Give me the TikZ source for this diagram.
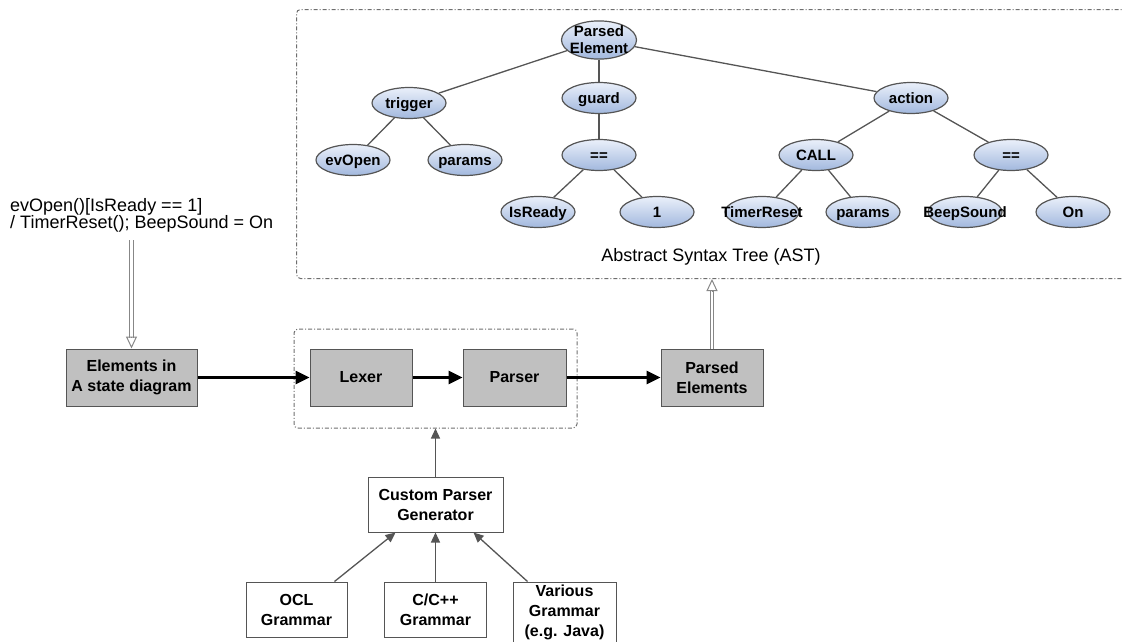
\documentclass[tikz,border=0pt]{standalone}
\usepackage{fontspec}
\setmainfont{Liberation Sans}
\usetikzlibrary{positioning,arrows.meta,shapes.geometric}
\definecolor{edgegray}{RGB}{85,85,85}
\definecolor{boxgray}{RGB}{192,192,192}
\definecolor{framegray}{RGB}{110,110,110}
\definecolor{shaftgray}{RGB}{135,135,135}
\definecolor{asttop}{RGB}{234,240,250}
\definecolor{astbottom}{RGB}{162,184,222}
\newcommand{\boxfont}{\fontsize{16}{20}\selectfont\bfseries}
\newcommand{\astfont}{\fontsize{15}{17}\selectfont\bfseries}
\newcommand{\notefont}{\fontsize{18}{17}\selectfont}
\tikzset{
	procbox/.style={
		rectangle,
		draw=edgegray, line width=1pt,
		fill=boxgray,
		font=\boxfont,
		align=center,
		minimum height=57pt,
		inner sep=0pt},
	grambox/.style={
		rectangle,
		draw=edgegray, line width=1pt,
		fill=white,
		font=\boxfont,
		align=center,
		inner sep=0pt},
	astnode/.style={
		ellipse,
		draw=edgegray, line width=1.2pt,
		top color=asttop, bottom color=astbottom,
		minimum width=74pt,
		minimum height=31pt,
		inner sep=0pt,
		font=\astfont,
		text height=10.5pt, text depth=0pt,
		execute at begin node={\hbox to 0pt\bgroup\hss},
		execute at end node={\hss\egroup}},
	groupframe/.style={
		rectangle,
		draw=framegray, line width=1pt,
		dash pattern=on 4pt off 2pt on 1pt off 2pt,
		rounded corners=4pt,
		inner sep=0pt},
	treeline/.style={draw=edgegray, line width=1.3pt},
	flow/.style={draw=black, line width=2.6pt, -{Triangle[length=14pt,width=13pt]}},
	feed/.style={draw=edgegray, line width=1.3pt, -{Triangle[length=10pt,width=9pt]}},
	dblshaft/.style={draw=shaftgray, double=white, double distance=2.5pt, line width=1pt},
	hollowtip/.style={draw=shaftgray, line width=1pt, -{Triangle[open,length=12pt,width=11pt]}},
}
\begin{document}
\begin{tikzpicture}
			[x=1pt, y=-1pt,
			node distance=50pt]
			\useasboundingbox (0,0) rectangle (1122,641);
			\clip (0,0) rectangle (1122,641);
			\node[groupframe, minimum width=844pt, minimum height=269pt, anchor=north west] (astframe) at (296,9) {};
			\node[font=\notefont] (astlabel) at (711,257) {Abstract Syntax Tree (AST)};
			% the tree
			\node[astnode, minimum width=75pt, minimum height=36pt, text height=27pt] (root) at (599,40) {\shortstack{Parsed\\[3pt]Element}};
			\node[astnode] (trigger) at (409,103) {trigger};
			\node[astnode] (guard) at (599,98) {guard};
			\node[astnode] (action) at (911,98) {action};
			\node[astnode] (evopen) at (353,160) {evOpen};
			\node[astnode] (tparams) at (465,160) {params};
			\node[astnode] (geq) at (599,155) {==};
			\node[astnode] (isready) at (538,212) {IsReady};
			\node[astnode] (one) at (657,212) {1};
			\node[astnode] (call) at (816,155) {CALL};
			\node[astnode] (aeq) at (1011,155) {==};
			\node[astnode] (timer) at (762,212) {TimerReset};
			\node[astnode] (cparams) at (863,212) {params};
			\node[astnode] (beep) at (965,212) {BeepSound};
			\node[astnode] (on) at (1073,212) {On};
			\draw[treeline] (root) -- (trigger);
			\draw[treeline] (root) -- (guard);
			\draw[treeline] (root) -- (action);
			\draw[treeline] (trigger) -- (evopen);
			\draw[treeline] (trigger) -- (tparams);
			\draw[treeline] (guard) -- (geq);
			\draw[treeline] (geq) -- (isready);
			\draw[treeline] (geq) -- (one);
			\draw[treeline] (action) -- (call);
			\draw[treeline] (action) -- (aeq);
			\draw[treeline] (call) -- (timer);
			\draw[treeline] (call) -- (cparams);
			\draw[treeline] (aeq) -- (beep);
			\draw[treeline] (aeq) -- (on);
			% the pipeline
			\node[font=\notefont, align=left, anchor=north west, inner sep=0pt] (trans) at (10,198) {evOpen()[IsReady == 1]\\/ TimerReset(); BeepSound = On};
			\node[procbox, minimum width=131pt] (elem) at (131.5,377.5) {Elements in\\A state diagram};
			\node[groupframe, minimum width=283pt, minimum height=99pt] (pframe) at (435.5,378.5) {};
			\node[procbox, minimum width=102pt] (lexer) at (361,377.5) {Lexer};
			\node[procbox, minimum width=103pt, right=of lexer] (parser) {Parser};
			\node[procbox, minimum width=102pt, right=94pt of parser] (parsed) {Parsed\\Elements};
			\node[grambox, minimum width=135pt, minimum height=55pt] (cpg) at (435.5,504.5) {Custom Parser\\Generator};
			\node[grambox, minimum width=101pt, minimum height=55pt] (ocl) at (296.5,609.5) {OCL\\Grammar};
			\node[grambox, minimum width=102pt, minimum height=55pt] (cpp) at (435.5,609.5) {C/C++\\Grammar};
			\node[grambox, minimum width=103pt, minimum height=60pt] (various) at (564.5,612) {Various\\Grammar\\(e.g. Java)};
			\coordinate (transout) at (trans.south -| elem.north);
			\coordinate (astin) at (parsed.north |- astframe.south);
			\draw[dblshaft, shorten <=8pt, shorten >=11pt] (transout) -- (elem.north);
			\draw[hollowtip] ([yshift=12pt]elem.north) -- (elem.north);
			\draw[flow] (elem) -- (lexer);
			\draw[flow] (lexer) -- (parser);
			\draw[flow] (parser) -- (parsed);
			\draw[dblshaft, shorten >=11pt] (parsed.north) -- (astin);
			\draw[hollowtip] ([yshift=-12pt]astin) -- (astin);
			\draw[feed] (cpg) -- (pframe);
			\draw[feed] ([xshift=38pt]ocl.north) -- ([xshift=-40pt]cpg.south);
			\draw[feed] (cpp) -- (cpg);
			\draw[feed] ([xshift=-37pt]various.north) -- ([xshift=38pt]cpg.south);
			\end{tikzpicture}
\end{document}
